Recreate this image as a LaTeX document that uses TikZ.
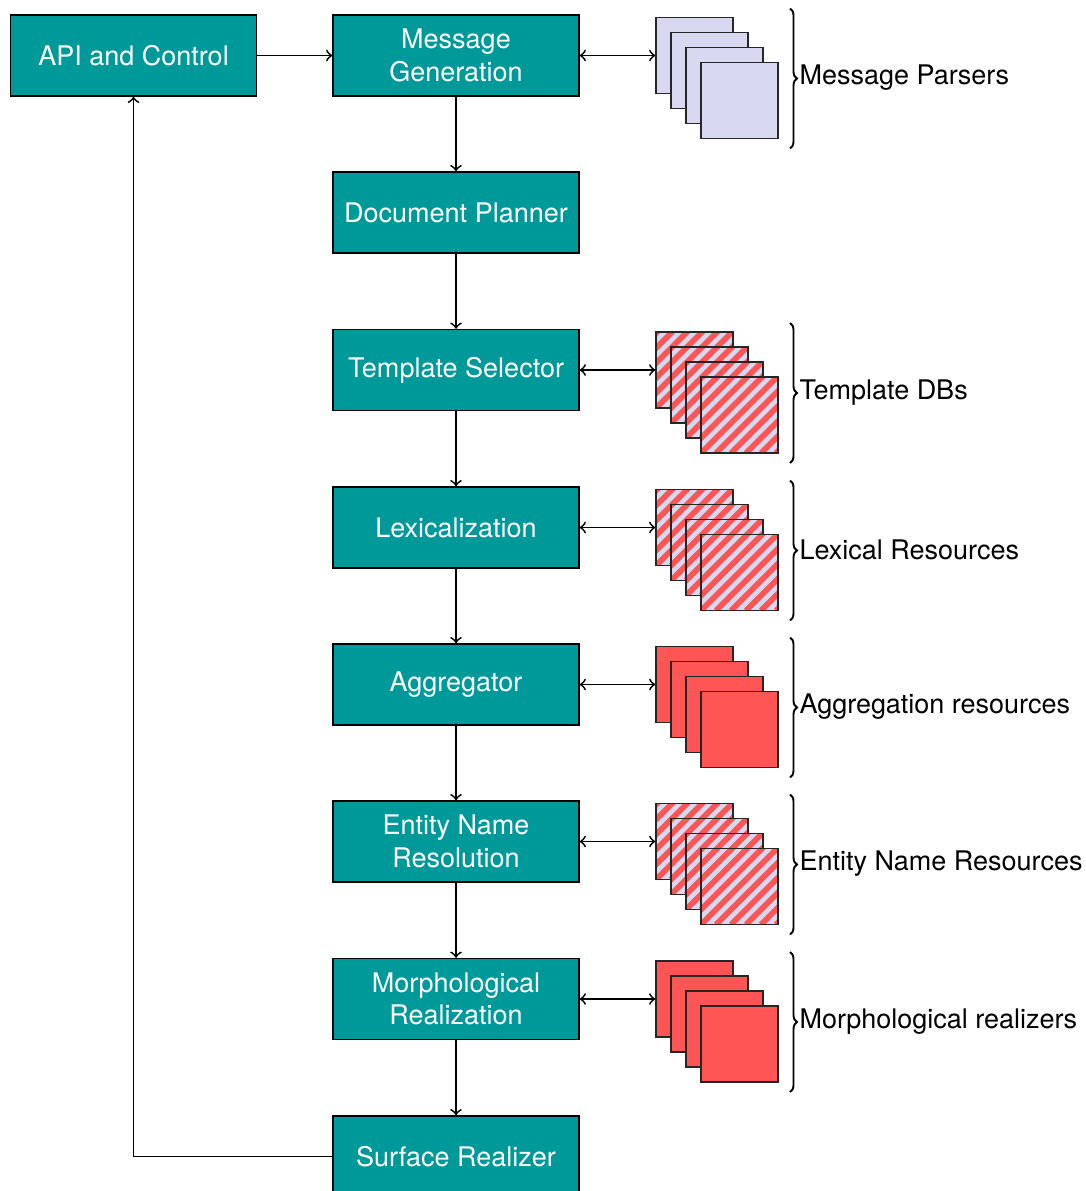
\documentclass[tikz,border=0pt]{standalone}
\usepackage{fontspec}
\setmainfont{TeX Gyre Heros}
\usetikzlibrary{decorations.pathreplacing}
\definecolor{tealbox}{RGB}{0,153,153}
\definecolor{lav}{RGB}{216,216,240}
\definecolor{stripered}{RGB}{255,85,85}
\tikzset{
  mainbox/.style={draw=black, line width=0.5pt, fill=tealbox, text=white, minimum width=91.1pt, minimum height=30pt, align=center, inner sep=2pt},
  resbox/.style={draw=black!85, line width=0.5pt, minimum width=28.5pt, minimum height=28.2pt, inner sep=0pt},
  plainres/.style={resbox, fill=lav},
  redres/.style={resbox, fill=stripered},
  hatchres/.style={resbox, fill=lav, path picture={
      \foreach \k in {-8,...,8}{
        \draw[stripered, line width=2.1pt]
          ([xshift=\k*5.556pt]path picture bounding box.south west) -- ++(45:50pt);
      }}},
  conn/.style={line width=0.65pt},
  bracedeco/.style={line width=0.7pt, decorate, decoration={brace, amplitude=2.6pt}},
  bracelabel/.style={anchor=west, inner sep=0pt, text=black}
}
\newcommand{\resstack}[4]{% prefix, center y, style, label
  \node[#3] (#1a) at (694.5,#2) {};
  \node[#3] (#1b) at (709.5,#2+15) {};
  \node[#3] (#1c) at (724.5,#2+30) {};
  \node[#3] (#1d) at (739.5,#2+45) {};
  \draw[bracedeco] (790,#2-47) -- (790,#2+93);
  \node[bracelabel] (#1lbl) at (799,#2+22.5) {#4};
}
\begin{document}
\begin{tikzpicture}[x=0.37037pt, y=-0.37037pt]
\useasboundingbox (0,0) rectangle (1085,1191);
\clip (0,0) rectangle (1085,1191);

\node[mainbox] (api) at (133.5,55.5) {API and Control};
\node[mainbox] (mg) at (456,55.5) {Message\\Generation};
\node[mainbox] (dp) at (456,212.5) {Document Planner};
\node[mainbox] (ts) at (456,370) {Template Selector};
\node[mainbox] (lx) at (456,527.5) {Lexicalization};
\node[mainbox] (ag) at (456,684.5) {Aggregator};
\node[mainbox] (en) at (456,841.5) {Entity Name\\Resolution};
\node[mainbox] (mr) at (456,999) {Morphological\\Realization};
\node[mainbox] (sr) at (456,1156.5) {Surface Realizer};

\resstack{p}{55.5}{plainres}{Message Parsers}
\resstack{t}{370}{hatchres}{Template DBs}
\resstack{l}{527.5}{hatchres}{Lexical Resources}
\resstack{g}{684.5}{redres}{Aggregation resources}
\resstack{e}{841.5}{hatchres}{Entity Name Resources}
\resstack{m}{999}{redres}{Morphological realizers}

\draw[conn,->] (api) -- (mg);
\draw[conn,->] (mg) -- (dp);
\draw[conn,->] (dp) -- (ts);
\draw[conn,->] (ts) -- (lx);
\draw[conn,->] (lx) -- (ag);
\draw[conn,->] (ag) -- (en);
\draw[conn,->] (en) -- (mr);
\draw[conn,->] (mr) -- (sr);
\draw[conn,->] (sr.west) -| (api.south);

\draw[conn,<->] (mg.east) -- (pa.west);
\draw[conn,<->] (ts.east) -- (ta.west);
\draw[conn,<->] (lx.east) -- (la.west);
\draw[conn,<->] (ag.east) -- (ga.west);
\draw[conn,<->] (en.east) -- (ea.west);
\draw[conn,<->] (mr.east) -- (ma.west);
\end{tikzpicture}
\end{document}
